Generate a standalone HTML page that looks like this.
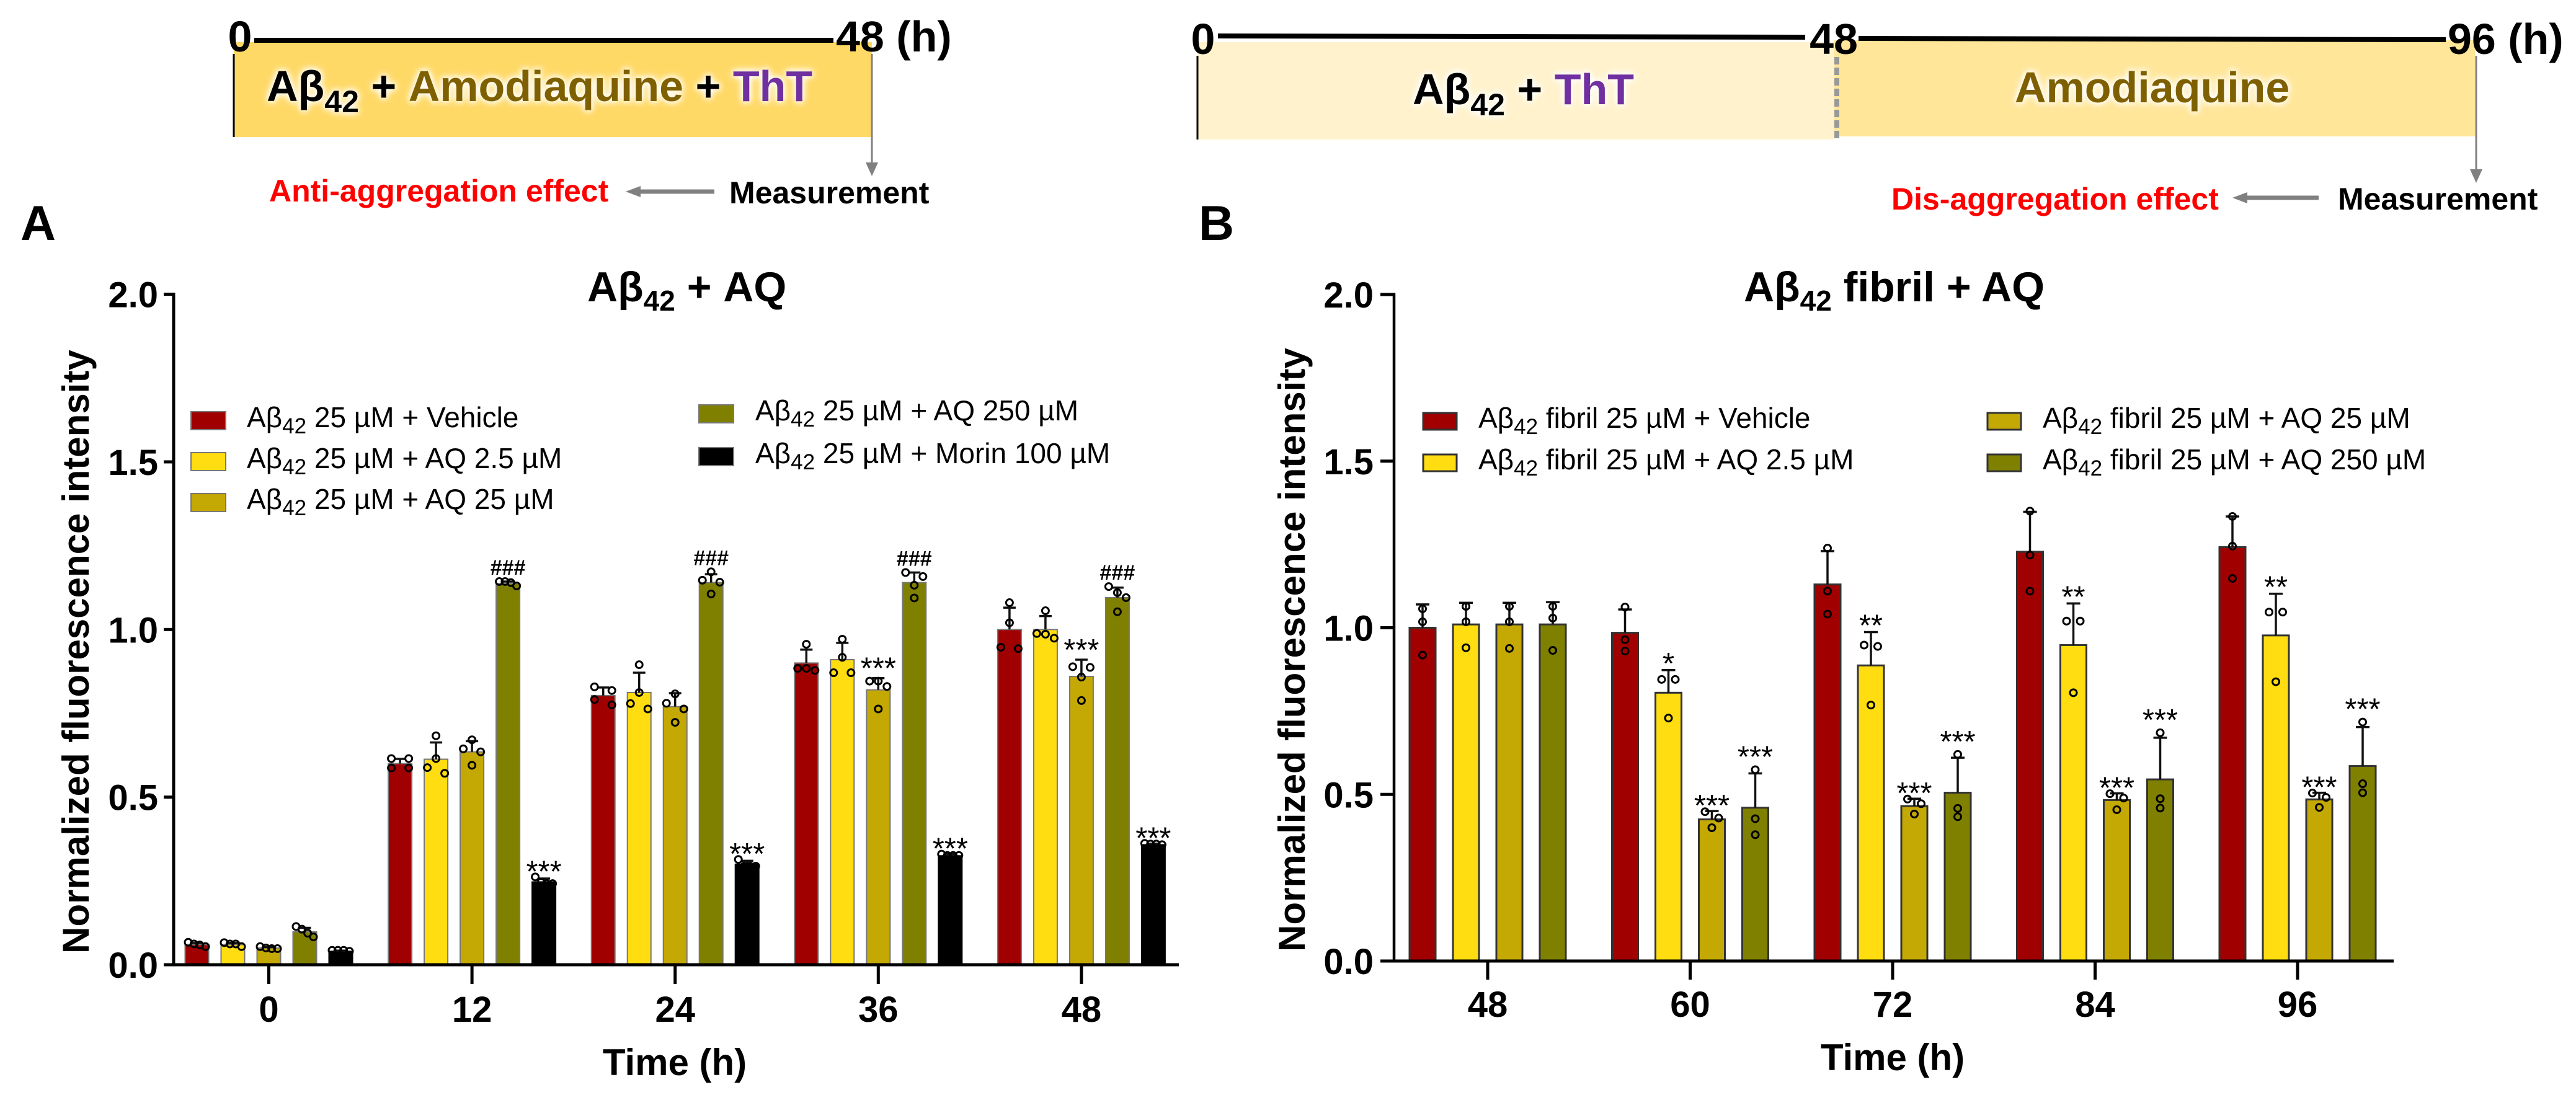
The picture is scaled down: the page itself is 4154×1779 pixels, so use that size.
<!DOCTYPE html>
<html lang="en">
<head>
<meta charset="utf-8">
<title>Amyloid beta aggregation and amodiaquine</title>
<style>
html,body{margin:0;padding:0;background:#fff;width:4154px;height:1779px;overflow:hidden}
svg{display:block}
text{font-family:"Liberation Sans",Arial,sans-serif;fill:#000}
.b{font-weight:700}
.glow{filter:drop-shadow(0 0 5px #fff) drop-shadow(0 0 5px #fff)}
.tl{font-size:70px;font-weight:700}
.note{font-size:50px;font-weight:700}
.leg{font-size:46px}
</style>
</head>
<body>
<svg id="fig" xmlns="http://www.w3.org/2000/svg" width="4154" height="1779" viewBox="0 0 4154 1779">
<rect x="0" y="0" width="4154" height="1779" fill="#fff"/>

<g>
  <rect x="377" y="68" width="1029" height="153" fill="#FFD966"/>
  <line x1="410" y1="65" x2="1344" y2="65" stroke="#000" stroke-width="8"/>
  <line x1="377" y1="87" x2="377" y2="221" stroke="#000" stroke-width="3"/>
  <line x1="1406" y1="87" x2="1406" y2="265" stroke="#808080" stroke-width="3"/>
  <polygon points="1396,262 1416,262 1406,284" fill="#808080"/>
  <text x="387" y="83" text-anchor="middle" class="tl">0</text>
  <text x="1348" y="83" class="tl">48 (h)</text>
  <text x="430" y="163" class="tl glow">Aβ<tspan dy="18" font-size="50">42</tspan><tspan dy="-18"> + </tspan><tspan fill="#7F6000">Amodiaquine</tspan><tspan> + </tspan><tspan fill="#7030A0">ThT</tspan></text>
  <text x="434" y="325" class="note" style="fill:#FF0000">Anti-aggregation effect</text>
  <line x1="1152" y1="309" x2="1025" y2="309" stroke="#808080" stroke-width="7"/>
  <polygon points="1033,300 1033,318 1009,309" fill="#808080"/>
  <text x="1176" y="328" class="note">Measurement</text>
</g>

<g>
  <rect x="1931" y="68" width="1027" height="157" fill="#FFF2CC"/>
  <rect x="2958" y="65" width="1033" height="155" fill="#FFE699"/>
  <line x1="1964" y1="58" x2="2911" y2="60" stroke="#000" stroke-width="8"/>
  <line x1="2997" y1="62" x2="3944" y2="64" stroke="#000" stroke-width="8"/>
  <line x1="1931" y1="90" x2="1931" y2="225" stroke="#000" stroke-width="3"/>
  <line x1="2962" y1="92" x2="2962" y2="225" stroke="#999" stroke-width="8" stroke-dasharray="12 5"/>
  <line x1="3993" y1="90" x2="3993" y2="276" stroke="#808080" stroke-width="3"/>
  <polygon points="3983,273 4003,273 3993,295" fill="#808080"/>
  <text x="1940" y="87" text-anchor="middle" class="tl">0</text>
  <text x="2957" y="87" text-anchor="middle" class="tl">48</text>
  <text x="3947" y="87" class="tl">96 (h)</text>
  <text x="2278" y="168" class="tl glow">Aβ<tspan dy="18" font-size="50">42</tspan><tspan dy="-18"> + </tspan><tspan fill="#7030A0">ThT</tspan></text>
  <text x="3249" y="165" class="tl glow" style="fill:#7F6000">Amodiaquine</text>
  <text x="3050" y="338" class="note" style="fill:#FF0000">Dis-aggregation effect</text>
  <line x1="3739" y1="319" x2="3616" y2="319" stroke="#808080" stroke-width="7"/>
  <polygon points="3624,310 3624,328 3600,319" fill="#808080"/>
  <text x="3770" y="338" class="note">Measurement</text>
</g>

<text x="33" y="387" class="b" font-size="79">A</text>
<text x="1933" y="387" class="b" font-size="79">B</text>

<text x="947" y="486" class="b" font-size="68">Aβ<tspan dy="15" font-size="46">42</tspan><tspan dy="-15"> + AQ</tspan></text>
<text x="2812" y="486" class="b" font-size="68">Aβ<tspan dy="15" font-size="46">42</tspan><tspan dy="-15"> fibril + AQ</tspan></text>

<text x="1088" y="1734" text-anchor="middle" class="b" font-size="60">Time (h)</text>
<text x="3052" y="1726" text-anchor="middle" class="b" font-size="60">Time (h)</text>
<text transform="translate(143,1051) rotate(-90)" text-anchor="middle" class="b" font-size="60">Normalized fluorescence intensity</text>
<text transform="translate(2104,1048) rotate(-90)" text-anchor="middle" class="b" font-size="60">Normalized fluorescence intensity</text>

<g>
  <rect x="308" y="664" width="56" height="29" fill="#A00000" stroke="#777" stroke-width="2"/>
  <text x="398" y="689" class="leg">Aβ<tspan dy="10" font-size="35">42</tspan><tspan dy="-10"> 25 µM + Vehicle</tspan></text>
  <rect x="308" y="730" width="56" height="29" fill="#FFDD11" stroke="#777" stroke-width="2"/>
  <text x="398" y="755" class="leg">Aβ<tspan dy="10" font-size="35">42</tspan><tspan dy="-10"> 25 µM + AQ 2.5 µM</tspan></text>
  <rect x="308" y="796" width="56" height="29" fill="#C4A803" stroke="#777" stroke-width="2"/>
  <text x="398" y="821" class="leg">Aβ<tspan dy="10" font-size="35">42</tspan><tspan dy="-10"> 25 µM + AQ 25 µM</tspan></text>
  <rect x="1127" y="653" width="56" height="29" fill="#808000" stroke="#777" stroke-width="2"/>
  <text x="1218" y="678" class="leg">Aβ<tspan dy="10" font-size="35">42</tspan><tspan dy="-10"> 25 µM + AQ 250 µM</tspan></text>
  <rect x="1127" y="722" width="56" height="29" fill="#000" stroke="#777" stroke-width="2"/>
  <text x="1218" y="747" class="leg">Aβ<tspan dy="10" font-size="35">42</tspan><tspan dy="-10"> 25 µM + Morin 100 µM</tspan></text>
</g>

<g>
  <rect x="2295" y="666" width="54" height="27" fill="#A00000" stroke="#333" stroke-width="3"/>
  <text x="2384" y="690" class="leg">Aβ<tspan dy="10" font-size="35">42</tspan><tspan dy="-10"> fibril 25 µM + Vehicle</tspan></text>
  <rect x="2295" y="733" width="54" height="27" fill="#FFDD11" stroke="#333" stroke-width="3"/>
  <text x="2384" y="757" class="leg">Aβ<tspan dy="10" font-size="35">42</tspan><tspan dy="-10"> fibril 25 µM + AQ 2.5 µM</tspan></text>
  <rect x="3205" y="666" width="54" height="27" fill="#C4A803" stroke="#333" stroke-width="3"/>
  <text x="3294" y="690" class="leg">Aβ<tspan dy="10" font-size="35">42</tspan><tspan dy="-10"> fibril 25 µM + AQ 25 µM</tspan></text>
  <rect x="3205" y="733" width="54" height="27" fill="#808000" stroke="#333" stroke-width="3"/>
  <text x="3294" y="757" class="leg">Aβ<tspan dy="10" font-size="35">42</tspan><tspan dy="-10"> fibril 25 µM + AQ 250 µM</tspan></text>
</g>
</svg>

<script>
/* ---------- shared axis labels ---------- */
const yTickValues = [0, 0.5, 1, 1.5, 2];
const yTickLabels = ['0.0', '0.5', '1.0', '1.5', '2.0'];

/* ---------- chart A data: rows = series, columns = time ---------- */
const categoriesA = ['0', '12', '24', '36', '48'];
const seriesNamesA = ['vehicle', 'aq-2-5', 'aq-25', 'aq-250', 'morin'];
const meansA = [
  [0.060, 0.600, 0.803, 0.900, 1.000],
  [0.060, 0.613, 0.812, 0.910, 1.000],
  [0.050, 0.635, 0.770, 0.820, 0.860],
  [0.098, 1.137, 1.140, 1.140, 1.095],
  [0.040, 0.247, 0.300, 0.325, 0.358]
];
const errorsA = [
  [0.005, 0.014, 0.024, 0.040, 0.065],
  [0.005, 0.050, 0.059, 0.050, 0.040],
  [0.003, 0.032, 0.040, 0.035, 0.050],
  [0.012, 0.006, 0.025, 0.030, 0.030],
  [0.002, 0.010, 0.010, 0.005, 0.003]
];
const pointsA = [
  [[0.067,0.062,0.059,0.054],[0.615,0.615,0.587,0.587],[0.829,0.818,0.791,0.775],[0.956,0.884,0.884,0.878],[1.080,1.020,0.947,0.943]],
  [[0.066,0.062,0.062,0.054],[0.683,0.615,0.588,0.571],[0.895,0.812,0.779,0.763],[0.971,0.917,0.871,0.871],[1.056,0.988,0.986,0.974]],
  [[0.054,0.050,0.048,0.048],[0.671,0.644,0.635,0.595],[0.808,0.780,0.763,0.723],[0.846,0.846,0.830,0.763],[0.889,0.887,0.858,0.788]],
  [[0.114,0.106,0.094,0.083],[1.143,1.143,1.140,1.130],[1.172,1.147,1.141,1.106],[1.170,1.158,1.132,1.094],[1.128,1.110,1.095,1.053]],
  [[0.043,0.043,0.043,0.040],[0.262,0.246,0.242,0.242],[0.314,0.294,0.294,0.294],[0.330,0.326,0.326,0.326],[0.362,0.360,0.360,0.358]]
];
const significanceA = [
  ['', '', '', '', ''],
  ['', '', '', '', ''],
  ['', '', '', '***', '***'],
  ['', '###', '###', '###', '###'],
  ['', '***', '***', '***', '***']
];

/* ---------- chart B data ---------- */
const categoriesB = ['48', '60', '72', '84', '96'];
const seriesNamesB = ['vehicle', 'aq-2-5', 'aq-25', 'aq-250'];
const meansB = [
  [1.000, 0.985, 1.130, 1.228, 1.242],
  [1.010, 0.805, 0.887, 0.948, 0.977],
  [1.010, 0.425, 0.465, 0.483, 0.485],
  [1.010, 0.460, 0.505, 0.545, 0.585]
];
const errorsB = [
  [0.070, 0.070, 0.100, 0.120, 0.092],
  [0.065, 0.068, 0.100, 0.125, 0.125],
  [0.065, 0.025, 0.022, 0.020, 0.020],
  [0.067, 0.103, 0.105, 0.125, 0.117]
];
const pointsB = [
  [[1.057,1.018,0.918],[1.062,0.964,0.930],[1.239,1.110,1.041],[1.350,1.218,1.110],[1.334,1.245,1.148]],
  [[1.064,1.018,0.940],[0.845,0.845,0.729],[0.948,0.944,0.768],[1.020,1.020,0.805],[1.047,1.047,0.838]],
  [[1.064,1.018,0.938],[0.448,0.429,0.400],[0.486,0.472,0.441],[0.502,0.489,0.454],[0.504,0.491,0.461]],
  [[1.064,1.029,0.932],[0.574,0.427,0.379],[0.620,0.458,0.433],[0.685,0.487,0.459],[0.717,0.532,0.505]]
];
const significanceB = [
  ['', '', '', '', ''],
  ['', '*', '**', '**', '**'],
  ['', '***', '***', '***', '***'],
  ['', '***', '***', '***', '***']
];

const seriesColorsA = ['#A00000', '#FFDD11', '#C4A803', '#808000', '#000000'];
const seriesColorsB = ['#A00000', '#FFDD11', '#C4A803', '#808000'];

const SVG_NS = 'http://www.w3.org/2000/svg';
const fig = document.getElementById('fig');

function make(parent, tag, attrs, text) {
  const el = document.createElementNS(SVG_NS, tag);
  for (const k in attrs) el.setAttribute(k, attrs[k]);
  if (text !== undefined) el.textContent = text;
  parent.appendChild(el);
  return el;
}

/* Swarm layout: neighbouring replicates closer than minGap spread horizontally. */
function swarmOffsets(ys, minGap, spread) {
  const order = ys.map((y, i) => i).sort((a, b) => ys[a] - ys[b]);
  const off = ys.map(() => 0);
  let start = 0;
  for (let i = 1; i <= order.length; i++) {
    if (i === order.length || ys[order[i]] - ys[order[i - 1]] >= minGap) {
      const n = i - start;
      if (n > 1) {
        for (let j = 0; j < n; j++) off[order[start + j]] = -spread + 2 * spread * j / (n - 1);
      }
      start = i;
    }
  }
  return off;
}

function drawChart(id, c) {
  const yScale = v => c.y0 - v * c.unit;
  const tickX = i => c.firstTick + i * c.groupStep;
  const barX = (g, s) => tickX(g) + (s - (c.means.length - 1) / 2) * c.barStep;

  const root = make(fig, 'g', {});
  
  

  c.means.forEach((row, s) => {
    row.forEach((mean, g) => {
      const x = barX(g, s);
      const top = yScale(mean);
      const bar = make(root, 'rect', {
        x: x - c.barW / 2, y: top, width: c.barW, height: c.y0 - top,
        fill: c.colors[s], stroke: s === 4 ? '#000' : c.barStroke, 'stroke-width': c.barStrokeW
      });
      
      

      const capY = yScale(mean + c.errors[s][g]);
      const eb = make(root, 'path', {
        d: 'M' + x + ' ' + top + 'V' + capY + 'M' + (x - c.capW) + ' ' + capY + 'H' + (x + c.capW),
        fill: 'none', stroke: '#111', 'stroke-width': 3.5
      });
      
      

      const ys = c.points[s][g].map(yScale);
      const offs = swarmOffsets(ys, 13, c.spread);
      ys.forEach((py, i) => {
        const pt = make(root, 'circle', {
          cx: x + offs[i], cy: py, r: 5.5, fill: 'none', stroke: '#000', 'stroke-width': 3
        });
        
        
      });

      const sig = c.sig[s][g];
      if (sig) {
        const center = Math.min(capY, Math.min.apply(null, ys)) - c.sigGaps[s];
        const isHash = sig.charAt(0) === '#';
        const label = make(root, 'text', {
          x: x, y: center + (isHash ? 12 : 28), 'text-anchor': 'middle',
          'font-size': isHash ? 34 : 49, 'font-weight': isHash ? 700 : 400
        }, sig);
        
        
      }
    });
  });

  /* axes */
  const yAxis = make(root, 'line', {
    x1: c.axisX, x2: c.axisX, y1: yScale(2) - 2.5, y2: c.y0, stroke: '#000', 'stroke-width': c.axisW
  });
  
  

  const xAxis = make(root, 'line', {
    x1: c.axisX - c.yTickLen, x2: c.xEnd, y1: c.y0, y2: c.y0, stroke: '#000', 'stroke-width': 5
  });
  
  

  yTickValues.forEach((v, i) => {
    const y = yScale(v);
    const tick = make(root, 'line', {
      x1: c.axisX - c.yTickLen, x2: c.axisX, y1: y, y2: y, stroke: '#000', 'stroke-width': 5
    });
    
    
    const label = make(root, 'text', {
      x: c.yLabelX, y: y + 21, 'text-anchor': 'end', 'font-size': 58, 'font-weight': 700
    }, yTickLabels[i]);
    
    
  });

  c.categories.forEach((cat, i) => {
    const x = tickX(i);
    const tick = make(root, 'line', {
      x1: x, x2: x, y1: c.y0, y2: c.xTickEnd, stroke: '#000', 'stroke-width': 5
    });
    
    
    const label = make(root, 'text', {
      x: x, y: c.xLabelY, 'text-anchor': 'middle', 'font-size': 58, 'font-weight': 700
    }, cat);
    
    
  });
}

drawChart('chart-a', {
  categories: categoriesA, names: seriesNamesA, means: meansA, errors: errorsA,
  points: pointsA, sig: significanceA, colors: seriesColorsA, sigGaps: [0, 0, 27, 23, 20],
  y0: 1556, unit: 540.7, firstTick: 433.5, groupStep: 327.6, barStep: 58,
  barW: 38, barStroke: '#777', barStrokeW: 2, capW: 10, spread: 14,
  axisX: 280, axisW: 5, yTickLen: 16, xEnd: 1901, xTickEnd: 1587, yLabelX: 255, xLabelY: 1648
});

drawChart('chart-b', {
  categories: categoriesB, names: seriesNamesB, means: meansB, errors: errorsB,
  points: pointsB, sig: significanceB, colors: seriesColorsB, sigGaps: [0, 22, 20, 32],
  y0: 1550, unit: 537.5, firstTick: 2399, groupStep: 326.5, barStep: 70,
  barW: 42, barStroke: '#333', barStrokeW: 3, capW: 11, spread: 11,
  axisX: 2248, axisW: 4.5, yTickLen: 22, xEnd: 3860, xTickEnd: 1580, yLabelX: 2215, xLabelY: 1640
});
</script>
</body>
</html>
